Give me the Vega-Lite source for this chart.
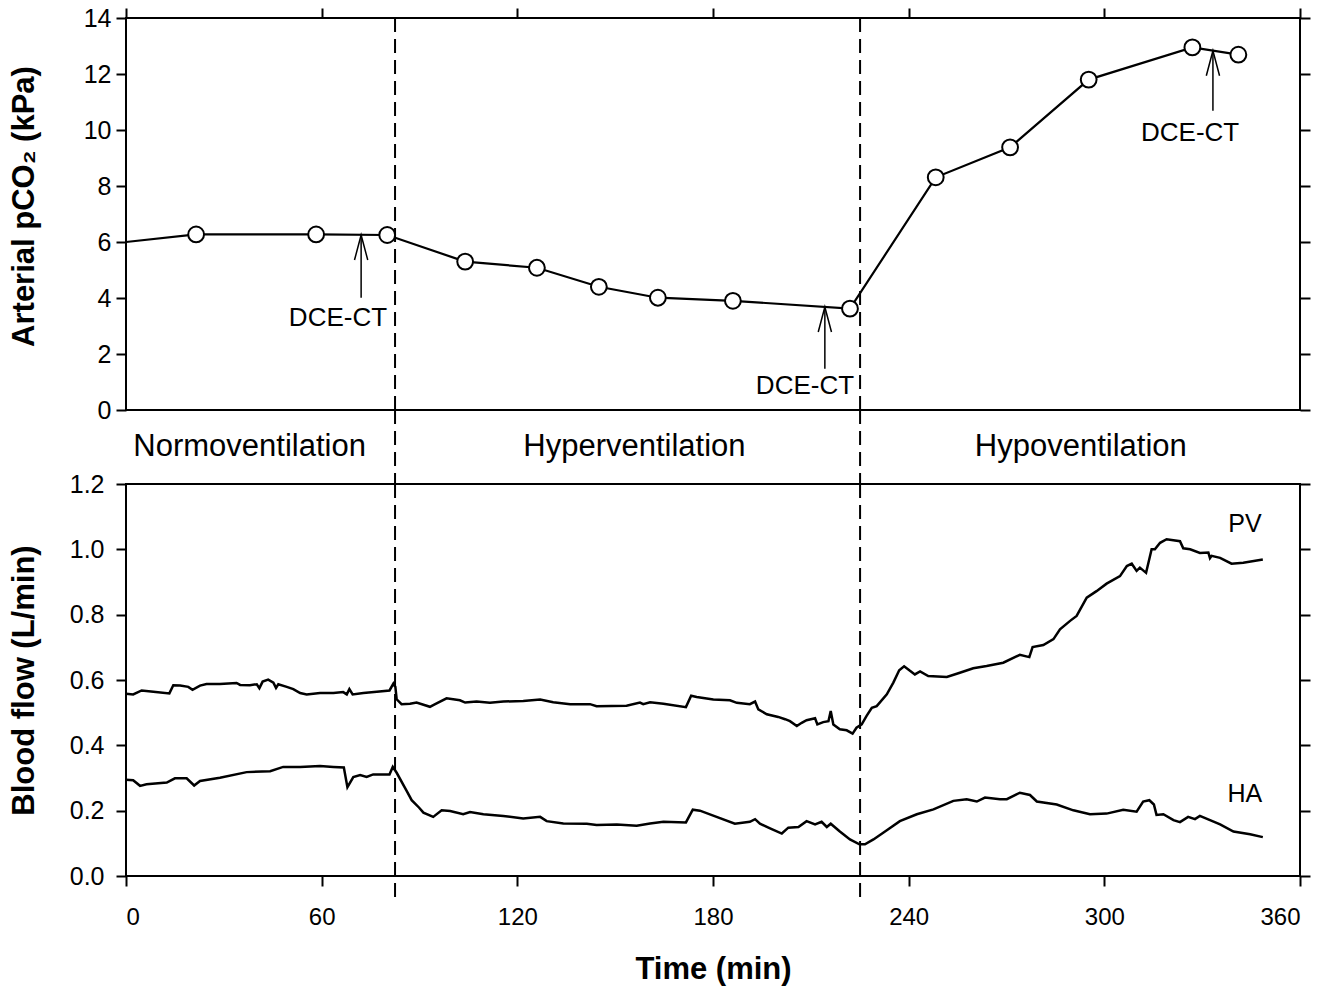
{
  "$schema": "https://vega.github.io/schema/vega-lite/v6.json",
  "background": "white",
  "padding": {"left": 6, "top": 5, "right": 5, "bottom": 5},
  "spacing": 0,
  "bounds": "flush",
  "datasets": {
    "pco2": [
      {"t": 0, "v": 6.0}, {"t": 21.5, "v": 6.27}, {"t": 58.3, "v": 6.27}, {"t": 80.1, "v": 6.25},
      {"t": 104, "v": 5.30}, {"t": 126, "v": 5.08}, {"t": 145, "v": 4.40}, {"t": 163.1, "v": 4.01},
      {"t": 186.1, "v": 3.90}, {"t": 222, "v": 3.62}, {"t": 248.3, "v": 8.31}, {"t": 271.1, "v": 9.38},
      {"t": 295.2, "v": 11.8}, {"t": 327, "v": 12.95}, {"t": 341.1, "v": 12.69}
    ],
    "arrows": [
      {"t": 72.1, "v": 4.01, "v2": 6.25},
      {"t": 214.3, "v": 1.47, "v2": 3.68},
      {"t": 333.3, "v": 10.69, "v2": 12.83}
    ],
    "arrowLabels": [
      {"t": 65, "v": 3.3, "label": "DCE-CT"},
      {"t": 208.2, "v": 0.87, "label": "DCE-CT"},
      {"t": 326.3, "v": 9.9, "label": "DCE-CT"}
    ],
    "dashes": [{"t": 82.5}, {"t": 225.1}],
    "phases": [
      {"t": 37.9, "label": "Normoventilation"},
      {"t": 155.9, "label": "Hyperventilation"},
      {"t": 292.8, "label": "Hypoventilation"}
    ],
    "seriesLabels": [
      {"t": 343.1, "v": 1.078, "label": "PV"},
      {"t": 343.1, "v": 0.251, "label": "HA"}
    ],
    "flow": [
      {"s": "PV", "t": 0, "v": 0.558}, {"s": "PV", "t": 2.2, "v": 0.556}, {"s": "PV", "t": 4.8, "v": 0.568}, {"s": "PV", "t": 8.4, "v": 0.564},
      {"s": "PV", "t": 13.3, "v": 0.559}, {"s": "PV", "t": 14.5, "v": 0.584}, {"s": "PV", "t": 16.6, "v": 0.583}, {"s": "PV", "t": 19.1, "v": 0.579},
      {"s": "PV", "t": 20.4, "v": 0.570}, {"s": "PV", "t": 22.7, "v": 0.583}, {"s": "PV", "t": 24.7, "v": 0.588}, {"s": "PV", "t": 28.8, "v": 0.588},
      {"s": "PV", "t": 33.9, "v": 0.591}, {"s": "PV", "t": 35, "v": 0.585}, {"s": "PV", "t": 38, "v": 0.584}, {"s": "PV", "t": 40.1, "v": 0.587},
      {"s": "PV", "t": 40.9, "v": 0.575}, {"s": "PV", "t": 41.9, "v": 0.595}, {"s": "PV", "t": 43.6, "v": 0.601}, {"s": "PV", "t": 45.2, "v": 0.592},
      {"s": "PV", "t": 46, "v": 0.576}, {"s": "PV", "t": 46.7, "v": 0.587}, {"s": "PV", "t": 49.3, "v": 0.579}, {"s": "PV", "t": 51.3, "v": 0.572},
      {"s": "PV", "t": 53.4, "v": 0.560}, {"s": "PV", "t": 55.4, "v": 0.556}, {"s": "PV", "t": 59.5, "v": 0.560}, {"s": "PV", "t": 63.6, "v": 0.560},
      {"s": "PV", "t": 66.6, "v": 0.563}, {"s": "PV", "t": 67.7, "v": 0.556}, {"s": "PV", "t": 68.5, "v": 0.572}, {"s": "PV", "t": 69.5, "v": 0.556},
      {"s": "PV", "t": 72.8, "v": 0.560}, {"s": "PV", "t": 76.9, "v": 0.564}, {"s": "PV", "t": 80.8, "v": 0.568}, {"s": "PV", "t": 82, "v": 0.589},
      {"s": "PV", "t": 82.6, "v": 0.579}, {"s": "PV", "t": 83, "v": 0.541}, {"s": "PV", "t": 84.5, "v": 0.526}, {"s": "PV", "t": 87.1, "v": 0.527},
      {"s": "PV", "t": 89.1, "v": 0.531}, {"s": "PV", "t": 93.2, "v": 0.518}, {"s": "PV", "t": 94.8, "v": 0.526}, {"s": "PV", "t": 98.3, "v": 0.544},
      {"s": "PV", "t": 102.4, "v": 0.538}, {"s": "PV", "t": 104, "v": 0.531}, {"s": "PV", "t": 107.5, "v": 0.534}, {"s": "PV", "t": 111.6, "v": 0.530},
      {"s": "PV", "t": 115.7, "v": 0.534}, {"s": "PV", "t": 121.8, "v": 0.536}, {"s": "PV", "t": 127, "v": 0.540}, {"s": "PV", "t": 131, "v": 0.532},
      {"s": "PV", "t": 136.2, "v": 0.526}, {"s": "PV", "t": 142.3, "v": 0.526}, {"s": "PV", "t": 144.3, "v": 0.520}, {"s": "PV", "t": 153.5, "v": 0.521},
      {"s": "PV", "t": 157.6, "v": 0.531}, {"s": "PV", "t": 158.6, "v": 0.526}, {"s": "PV", "t": 160.7, "v": 0.532}, {"s": "PV", "t": 164.8, "v": 0.527},
      {"s": "PV", "t": 171.7, "v": 0.517}, {"s": "PV", "t": 173.3, "v": 0.552}, {"s": "PV", "t": 175, "v": 0.548}, {"s": "PV", "t": 180.1, "v": 0.540},
      {"s": "PV", "t": 185.2, "v": 0.538}, {"s": "PV", "t": 187.3, "v": 0.530}, {"s": "PV", "t": 191.3, "v": 0.526}, {"s": "PV", "t": 192.9, "v": 0.534},
      {"s": "PV", "t": 193.9, "v": 0.510}, {"s": "PV", "t": 196.5, "v": 0.495}, {"s": "PV", "t": 200, "v": 0.487}, {"s": "PV", "t": 202.1, "v": 0.480},
      {"s": "PV", "t": 203.6, "v": 0.474}, {"s": "PV", "t": 205.7, "v": 0.459}, {"s": "PV", "t": 207.2, "v": 0.469}, {"s": "PV", "t": 208.7, "v": 0.477},
      {"s": "PV", "t": 211.3, "v": 0.483}, {"s": "PV", "t": 212, "v": 0.464}, {"s": "PV", "t": 213.8, "v": 0.471}, {"s": "PV", "t": 215.4, "v": 0.474},
      {"s": "PV", "t": 216.1, "v": 0.505}, {"s": "PV", "t": 216.9, "v": 0.464}, {"s": "PV", "t": 218.9, "v": 0.449}, {"s": "PV", "t": 221, "v": 0.446},
      {"s": "PV", "t": 222.8, "v": 0.436}, {"s": "PV", "t": 224, "v": 0.454}, {"s": "PV", "t": 225.6, "v": 0.464}, {"s": "PV", "t": 227.1, "v": 0.490},
      {"s": "PV", "t": 228.7, "v": 0.515}, {"s": "PV", "t": 230.2, "v": 0.520}, {"s": "PV", "t": 233.3, "v": 0.556}, {"s": "PV", "t": 235.3, "v": 0.592},
      {"s": "PV", "t": 237.1, "v": 0.630}, {"s": "PV", "t": 238.6, "v": 0.642}, {"s": "PV", "t": 240.4, "v": 0.628}, {"s": "PV", "t": 241.9, "v": 0.617},
      {"s": "PV", "t": 243.5, "v": 0.626}, {"s": "PV", "t": 246, "v": 0.612}, {"s": "PV", "t": 251.7, "v": 0.609}, {"s": "PV", "t": 255.7, "v": 0.622},
      {"s": "PV", "t": 259.8, "v": 0.636}, {"s": "PV", "t": 263.9, "v": 0.643}, {"s": "PV", "t": 269, "v": 0.653}, {"s": "PV", "t": 274.1, "v": 0.677},
      {"s": "PV", "t": 277, "v": 0.670}, {"s": "PV", "t": 278, "v": 0.701}, {"s": "PV", "t": 281.3, "v": 0.707}, {"s": "PV", "t": 284.4, "v": 0.725},
      {"s": "PV", "t": 286.4, "v": 0.755}, {"s": "PV", "t": 289.5, "v": 0.781}, {"s": "PV", "t": 291.5, "v": 0.796}, {"s": "PV", "t": 294.6, "v": 0.852},
      {"s": "PV", "t": 297.6, "v": 0.872}, {"s": "PV", "t": 300.7, "v": 0.895}, {"s": "PV", "t": 304.8, "v": 0.918}, {"s": "PV", "t": 306.9, "v": 0.949},
      {"s": "PV", "t": 308.4, "v": 0.956}, {"s": "PV", "t": 309.9, "v": 0.934}, {"s": "PV", "t": 310.9, "v": 0.944}, {"s": "PV", "t": 312.8, "v": 0.928},
      {"s": "PV", "t": 314.5, "v": 1.0}, {"s": "PV", "t": 315.5, "v": 1.0}, {"s": "PV", "t": 317.1, "v": 1.02}, {"s": "PV", "t": 319.1, "v": 1.031},
      {"s": "PV", "t": 323.2, "v": 1.025}, {"s": "PV", "t": 324.2, "v": 1.003}, {"s": "PV", "t": 326.3, "v": 1.0}, {"s": "PV", "t": 329.3, "v": 0.989},
      {"s": "PV", "t": 331.9, "v": 0.990}, {"s": "PV", "t": 332.4, "v": 0.973}, {"s": "PV", "t": 332.9, "v": 0.980}, {"s": "PV", "t": 335.5, "v": 0.974},
      {"s": "PV", "t": 339, "v": 0.956}, {"s": "PV", "t": 342.6, "v": 0.959}, {"s": "PV", "t": 348.6, "v": 0.969},
      {"s": "HA", "t": 0, "v": 0.295}, {"s": "HA", "t": 2.2, "v": 0.293}, {"s": "HA", "t": 4.3, "v": 0.276}, {"s": "HA", "t": 6.3, "v": 0.281},
      {"s": "HA", "t": 12.5, "v": 0.286}, {"s": "HA", "t": 15, "v": 0.299}, {"s": "HA", "t": 18.6, "v": 0.299}, {"s": "HA", "t": 20.9, "v": 0.277},
      {"s": "HA", "t": 22.7, "v": 0.291}, {"s": "HA", "t": 28.8, "v": 0.301}, {"s": "HA", "t": 37, "v": 0.318}, {"s": "HA", "t": 44.2, "v": 0.321},
      {"s": "HA", "t": 48.2, "v": 0.334}, {"s": "HA", "t": 53.4, "v": 0.334}, {"s": "HA", "t": 59.5, "v": 0.337}, {"s": "HA", "t": 63.6, "v": 0.334},
      {"s": "HA", "t": 66.8, "v": 0.332}, {"s": "HA", "t": 67.9, "v": 0.272}, {"s": "HA", "t": 69.7, "v": 0.303}, {"s": "HA", "t": 71.8, "v": 0.309},
      {"s": "HA", "t": 73.8, "v": 0.303}, {"s": "HA", "t": 75.8, "v": 0.311}, {"s": "HA", "t": 80.8, "v": 0.311}, {"s": "HA", "t": 81.8, "v": 0.334},
      {"s": "HA", "t": 83, "v": 0.316}, {"s": "HA", "t": 86.1, "v": 0.260}, {"s": "HA", "t": 87.6, "v": 0.232}, {"s": "HA", "t": 89.9, "v": 0.209},
      {"s": "HA", "t": 91.2, "v": 0.194}, {"s": "HA", "t": 94.2, "v": 0.181}, {"s": "HA", "t": 96.8, "v": 0.201}, {"s": "HA", "t": 99.4, "v": 0.199},
      {"s": "HA", "t": 103.4, "v": 0.189}, {"s": "HA", "t": 105.5, "v": 0.196}, {"s": "HA", "t": 109.6, "v": 0.189}, {"s": "HA", "t": 115.7, "v": 0.184},
      {"s": "HA", "t": 121.8, "v": 0.176}, {"s": "HA", "t": 127, "v": 0.181}, {"s": "HA", "t": 129, "v": 0.168}, {"s": "HA", "t": 134.1, "v": 0.161},
      {"s": "HA", "t": 141.3, "v": 0.160}, {"s": "HA", "t": 144.3, "v": 0.156}, {"s": "HA", "t": 150.5, "v": 0.158}, {"s": "HA", "t": 156.6, "v": 0.154},
      {"s": "HA", "t": 160.7, "v": 0.161}, {"s": "HA", "t": 164.8, "v": 0.166}, {"s": "HA", "t": 171.7, "v": 0.164}, {"s": "HA", "t": 173.8, "v": 0.203},
      {"s": "HA", "t": 176, "v": 0.200}, {"s": "HA", "t": 181.1, "v": 0.181}, {"s": "HA", "t": 186.7, "v": 0.160}, {"s": "HA", "t": 191.3, "v": 0.166},
      {"s": "HA", "t": 192.9, "v": 0.174}, {"s": "HA", "t": 194.4, "v": 0.160}, {"s": "HA", "t": 197.5, "v": 0.146}, {"s": "HA", "t": 201.1, "v": 0.130},
      {"s": "HA", "t": 203.1, "v": 0.148}, {"s": "HA", "t": 206.2, "v": 0.150}, {"s": "HA", "t": 208.7, "v": 0.168}, {"s": "HA", "t": 211.3, "v": 0.158},
      {"s": "HA", "t": 213.3, "v": 0.166}, {"s": "HA", "t": 214.9, "v": 0.150}, {"s": "HA", "t": 216.1, "v": 0.160}, {"s": "HA", "t": 218.9, "v": 0.136},
      {"s": "HA", "t": 222, "v": 0.112}, {"s": "HA", "t": 224.9, "v": 0.097}, {"s": "HA", "t": 226.6, "v": 0.097}, {"s": "HA", "t": 229.2, "v": 0.112},
      {"s": "HA", "t": 233.3, "v": 0.140}, {"s": "HA", "t": 237.3, "v": 0.168}, {"s": "HA", "t": 242.5, "v": 0.189}, {"s": "HA", "t": 247.6, "v": 0.204},
      {"s": "HA", "t": 253.7, "v": 0.230}, {"s": "HA", "t": 257.8, "v": 0.235}, {"s": "HA", "t": 260.9, "v": 0.228}, {"s": "HA", "t": 263.4, "v": 0.240},
      {"s": "HA", "t": 268, "v": 0.235}, {"s": "HA", "t": 270.1, "v": 0.235}, {"s": "HA", "t": 274.1, "v": 0.255}, {"s": "HA", "t": 277.2, "v": 0.248},
      {"s": "HA", "t": 279.3, "v": 0.228}, {"s": "HA", "t": 285.4, "v": 0.219}, {"s": "HA", "t": 290.5, "v": 0.201}, {"s": "HA", "t": 295.6, "v": 0.189},
      {"s": "HA", "t": 300.7, "v": 0.191}, {"s": "HA", "t": 305.8, "v": 0.203}, {"s": "HA", "t": 309.9, "v": 0.197}, {"s": "HA", "t": 311.9, "v": 0.228},
      {"s": "HA", "t": 313.8, "v": 0.232}, {"s": "HA", "t": 315.2, "v": 0.219}, {"s": "HA", "t": 316, "v": 0.187}, {"s": "HA", "t": 318.1, "v": 0.189},
      {"s": "HA", "t": 321.2, "v": 0.171}, {"s": "HA", "t": 323.2, "v": 0.165}, {"s": "HA", "t": 325.7, "v": 0.181}, {"s": "HA", "t": 327.8, "v": 0.174},
      {"s": "HA", "t": 329.3, "v": 0.184}, {"s": "HA", "t": 332.4, "v": 0.171}, {"s": "HA", "t": 335.5, "v": 0.158}, {"s": "HA", "t": 339.6, "v": 0.136},
      {"s": "HA", "t": 344.7, "v": 0.128}, {"s": "HA", "t": 348.6, "v": 0.119}
    ]
  },
  "config": {
    "font": "Liberation Sans",
    "view": {"stroke": "black", "strokeWidth": 2},
    "axis": {
      "domain": false, "grid": false,
      "labelFont": "Liberation Sans", "labelFontSize": 25, "labelColor": "black", "labelPadding": 5,
      "titleFont": "Liberation Sans", "titleFontSize": 31, "titleFontWeight": "bold", "titleColor": "black",
      "tickColor": "black", "tickWidth": 2, "tickSize": 10
    }
  },
  "vconcat": [
    {
      "width": 1174, "height": 392,
      "encoding": {
        "x": {"field": "t", "type": "quantitative", "scale": {"domain": [0, 360], "nice": false},
              "axis": {"orient": "top", "labels": false, "title": null, "values": [0, 60, 120, 180, 240, 300, 360]}}
      },
      "layer": [
        {"data": {"name": "dashes"}, "mark": {"type": "rule", "color": "black", "strokeWidth": 2, "strokeDash": [14, 7]}, "encoding": {}},
        {"data": {"name": "pco2"}, "mark": {"type": "line", "color": "black", "strokeWidth": 2.2},
         "encoding": {"y": {"field": "v", "type": "quantitative", "scale": {"domain": [0, 14], "nice": false},
           "axis": {"orient": "left", "values": [0, 2, 4, 6, 8, 10, 12, 14], "title": "Arterial pCO₂ (kPa)", "titleX": -93, "titleY": 188, "titleBaseline": "alphabetic"}}}},
        {"data": {"name": "arrows"}, "mark": {"type": "rule", "color": "black", "strokeWidth": 1.5},
         "encoding": {"y": {"field": "v", "type": "quantitative", "axis": null}, "y2": {"field": "v2"}}},
        {"data": {"name": "arrows"}, "mark": {"type": "point", "shape": "M-0.53,2L0,0L0.53,2", "filled": false, "stroke": "black", "strokeWidth": 1.5, "size": 625, "opacity": 1},
         "encoding": {"y": {"field": "v2", "type": "quantitative", "axis": null}}},
        {"data": {"name": "pco2"}, "transform": [{"filter": "datum.t > 0"}],
         "mark": {"type": "point", "shape": "circle", "filled": true, "fill": "white", "stroke": "black", "strokeWidth": 2, "size": 250, "opacity": 1},
         "encoding": {"y": {"field": "v", "type": "quantitative", "axis": {"orient": "right", "labels": false, "title": null, "values": [0, 2, 4, 6, 8, 10, 12, 14]}}}},
        {"data": {"name": "arrowLabels"}, "mark": {"type": "text", "fontSize": 26, "color": "black", "baseline": "middle", "font": "Liberation Sans"},
         "encoding": {"y": {"field": "v", "type": "quantitative", "axis": null}, "text": {"field": "label"}}}
      ],
      "resolve": {"axis": {"y": "independent"}}
    },
    {
      "width": 1174, "height": 74,
      "view": {"stroke": null},
      "encoding": {
        "x": {"field": "t", "type": "quantitative", "scale": {"domain": [0, 360], "nice": false}, "axis": null}
      },
      "layer": [
        {"data": {"name": "dashes"}, "mark": {"type": "rule", "color": "black", "strokeWidth": 2, "strokeDash": [14, 7]}, "encoding": {}},
        {"data": {"name": "phases"}, "mark": {"type": "text", "fontSize": 31, "color": "black", "baseline": "middle", "font": "Liberation Sans"},
         "encoding": {"text": {"field": "label"}}}
      ]
    },
    {
      "width": 1174, "height": 392,
      "encoding": {
        "x": {"field": "t", "type": "quantitative", "scale": {"domain": [0, 360], "nice": false},
              "axis": {"orient": "bottom", "title": "Time (min)", "values": [0, 60, 120, 180, 240, 300, 360], "labelFontSize": 24, "labelPadding": 19, "titlePadding": 25}}
      },
      "layer": [
        {"data": {"name": "dashes"}, "mark": {"type": "rule", "color": "black", "strokeWidth": 2, "strokeDash": [14, 7]},
         "encoding": {"y": {"datum": 1.2, "type": "quantitative", "axis": null}, "y2": {"datum": -0.065}}},
        {"data": {"name": "flow"}, "mark": {"type": "line", "color": "black", "strokeWidth": 2.5},
         "encoding": {"y": {"field": "v", "type": "quantitative", "scale": {"domain": [0, 1.2], "nice": false},
           "axis": {"orient": "left", "values": [0, 0.2, 0.4, 0.6, 0.8, 1.0, 1.2], "format": ".1f", "labelPadding": 12, "title": "Blood flow (L/min)", "titleX": -93, "titleBaseline": "alphabetic"}},
           "detail": {"field": "s"}}},
        {"data": {"name": "seriesLabels"}, "mark": {"type": "text", "fontSize": 25, "color": "black", "baseline": "middle", "font": "Liberation Sans"},
         "encoding": {"y": {"field": "v", "type": "quantitative", "axis": {"orient": "right", "labels": false, "title": null, "values": [0, 0.2, 0.4, 0.6, 0.8, 1.0, 1.2]}},
           "text": {"field": "label"}}}
      ],
      "resolve": {"axis": {"y": "independent"}}
    }
  ]
}
